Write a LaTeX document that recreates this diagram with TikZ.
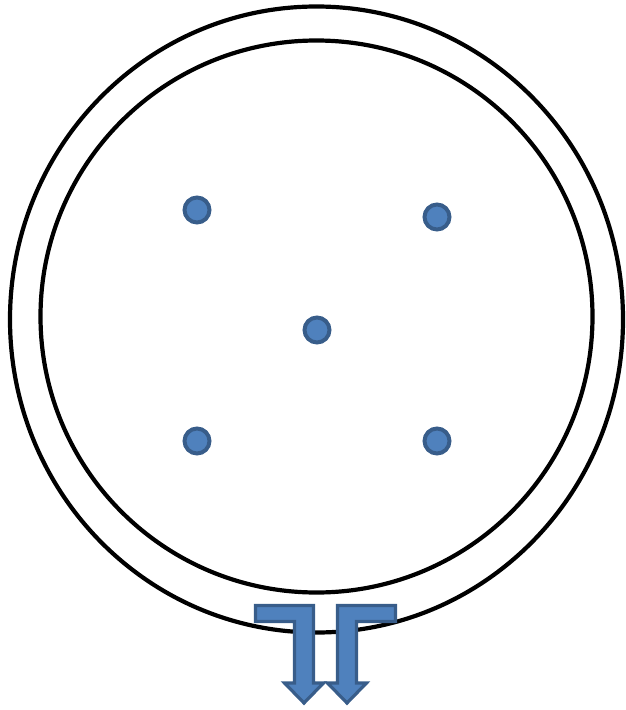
\documentclass[tikz,border=0pt]{standalone}
\usetikzlibrary{shapes.geometric}
\definecolor{dotfill}{HTML}{4F81BD}
\definecolor{dotedge}{HTML}{385D8A}
\tikzset{
  ring/.style={draw=black, line width=4.2pt},
  dotnode/.style={circle, draw=dotedge, fill=dotfill, line width=4pt, minimum size=25pt, inner sep=0pt, outer sep=0pt},
  bentarrow/.style={draw=dotedge, fill=dotfill, line width=3.2pt, line join=miter}
}
\begin{document}
\begin{tikzpicture}[x=1pt,y=-1pt]
\useasboundingbox (0,0) rectangle (625,710);
\draw[ring] (316.5,319.5) ellipse [x radius=306.5pt, y radius=313pt];
\draw[ring] (316.5,316.5) circle [radius=276pt];
\node[dotnode] (d1) at (197,210) {};
\node[dotnode] (d2) at (437,217) {};
\node[dotnode] (d3) at (317,330) {};
\node[dotnode] (d4) at (197,441) {};
\node[dotnode] (d5) at (437,441) {};
\draw[bentarrow] (255.5,605.5) -- (313.5,605.5) -- (313.5,683) -- (323.5,683) -- (304,703) -- (284.5,683) -- (294.5,683) -- (294.5,621.5) -- (255.5,621.5) -- cycle;
\draw[bentarrow] (395.5,605.5) -- (337.5,605.5) -- (337.5,683) -- (327.5,683) -- (347,703) -- (366.5,683) -- (356.5,683) -- (356.5,621.5) -- (395.5,621.5) -- cycle;
\end{tikzpicture}
\end{document}
